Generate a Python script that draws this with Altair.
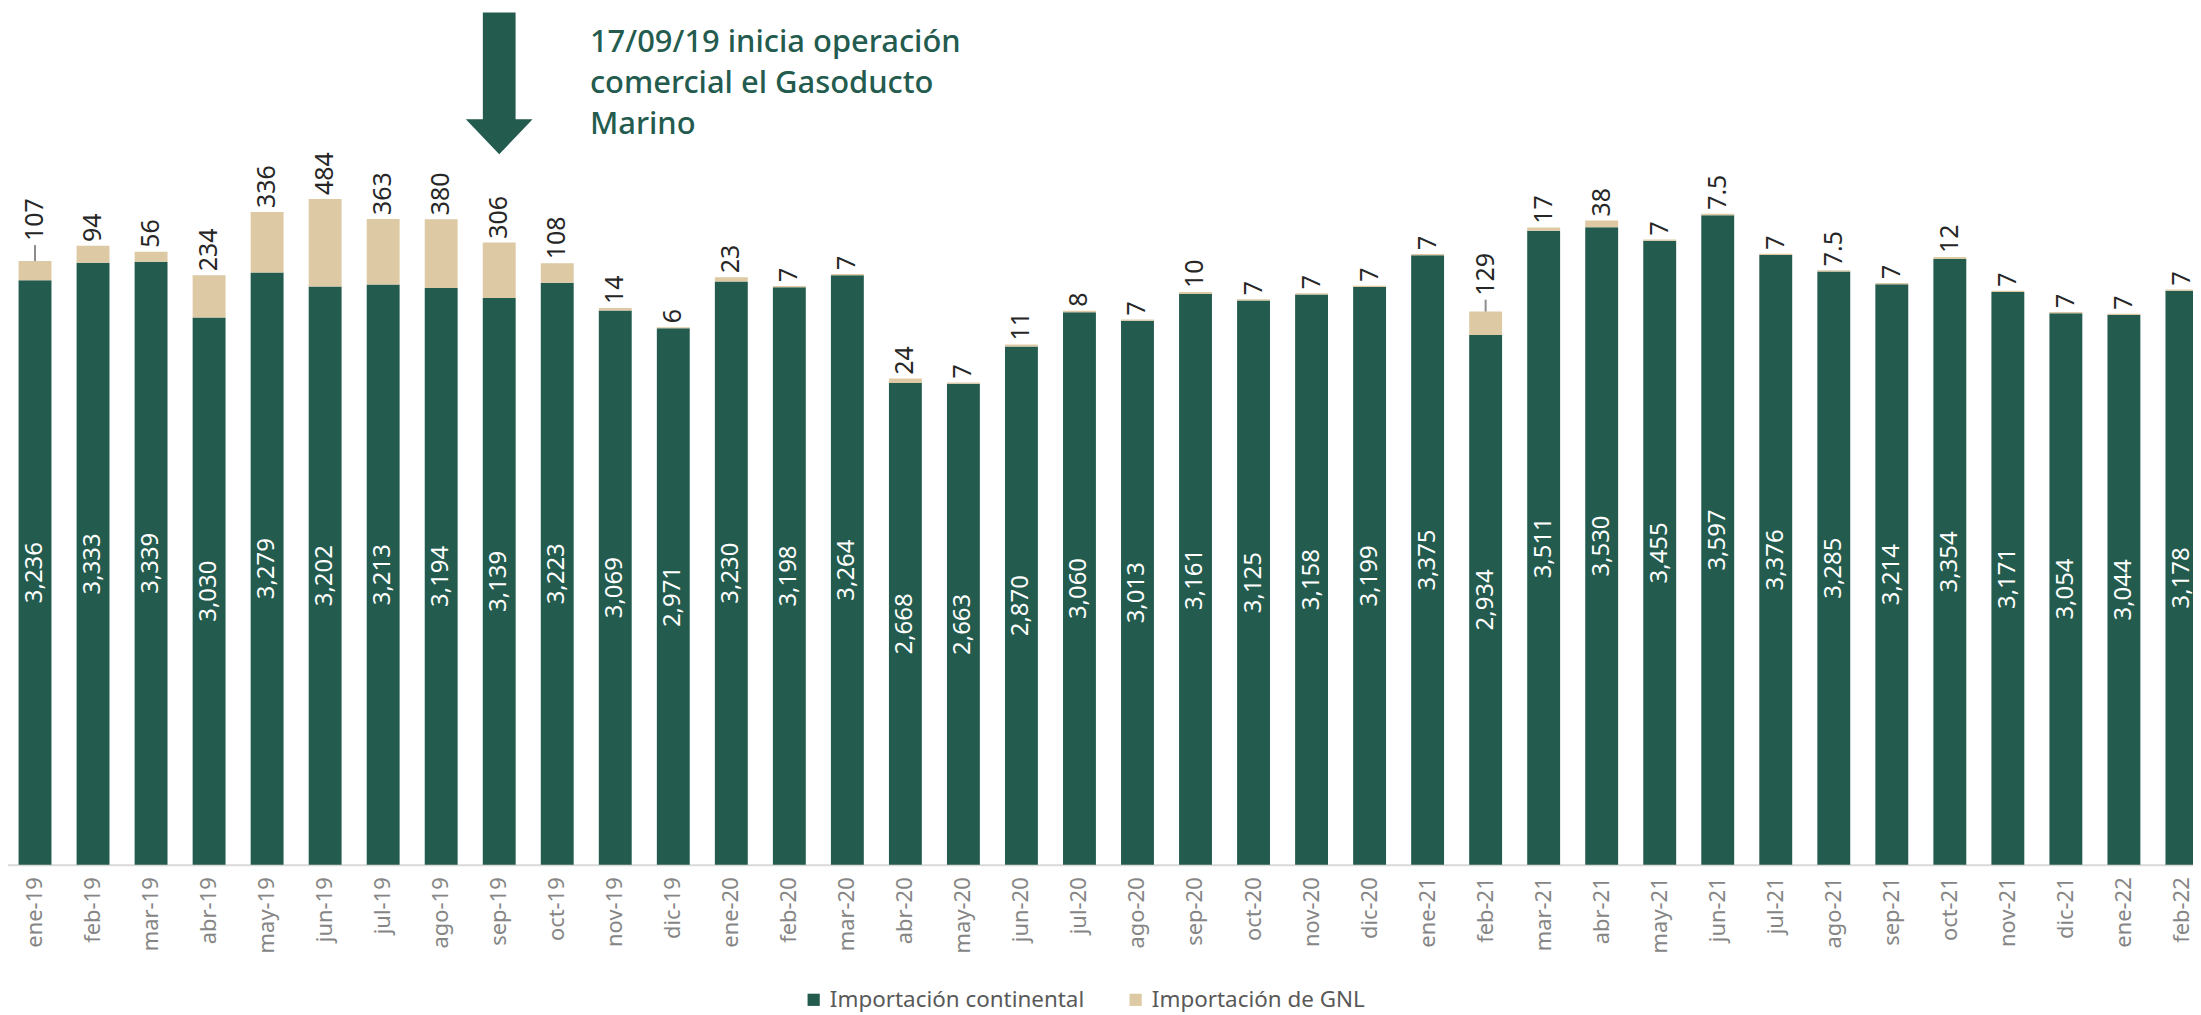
import altair as alt
import pandas as pd

# ---- data ----
meses = ["ene-19", "feb-19", "mar-19", "abr-19", "may-19", "jun-19", "jul-19", "ago-19",
         "sep-19", "oct-19", "nov-19", "dic-19",
         "ene-20", "feb-20", "mar-20", "abr-20", "may-20", "jun-20", "jul-20", "ago-20",
         "sep-20", "oct-20", "nov-20", "dic-20",
         "ene-21", "feb-21", "mar-21", "abr-21", "may-21", "jun-21", "jul-21", "ago-21",
         "sep-21", "oct-21", "nov-21", "dic-21",
         "ene-22", "feb-22"]
continental = [3236, 3333, 3339, 3030, 3279, 3202, 3213, 3194, 3139, 3223, 3069, 2971,
               3230, 3198, 3264, 2668, 2663, 2870, 3060, 3013, 3161, 3125, 3158, 3199,
               3375, 2934, 3511, 3530, 3455, 3597, 3376, 3285, 3214, 3354, 3171, 3054,
               3044, 3178]
gnl = [107, 94, 56, 234, 336, 484, 363, 380, 306, 108, 14, 6,
       23, 7, 7, 24, 7, 11, 8, 7, 10, 7, 7, 7,
       7, 129, 17, 38, 7, 7.5, 7, 7.5, 7, 12, 7, 7,
       7, 7]
series = ["Importación continental", "Importación de GNL"]
colores = ["#235B4E", "#DDC9A3"]
leader_px = {"ene-19": 16, "feb-21": 12}   # labels moved up with a leader line

anotacion = ["17/09/19 inicia operación", "comercial el Gasoducto", "Marino"]
anot_mes = "sep-19"

# ---- layout constants ----
W, H, YMAX = 2192, 858, 4735
ppu = H / YMAX
FONT = "Noto Sans"
GREEN = colores[0]

rows = []
for m, c, g in zip(meses, continental, gnl):
    rows.append({"mes": m, "serie": series[0], "y0": 0, "y1": c})
    rows.append({"mes": m, "serie": series[1], "y0": c, "y1": c + g})
bars_df = pd.DataFrame(rows)

lab = pd.DataFrame({"mes": meses, "cont": continental, "gnl": gnl})
lab["mid"] = lab["cont"] / 2
lab["total"] = lab["cont"] + lab["gnl"]
lab["cont_txt"] = lab["cont"].map(lambda v: f"{v:,}")
lab["gnl_txt"] = lab["gnl"].map(lambda v: f"{v:g}")
lab["lead"] = lab["mes"].map(leader_px).fillna(0)
lab["lab_y"] = lab["total"] + lab["lead"] / ppu
lead_df = lab[lab["lead"] > 0]

arrow_df = pd.DataFrame({"mes": [anot_mes], "ay": [(H - 74) / ppu]})
text_df = pd.DataFrame({"mes": [anot_mes], "ty": [(H - 43) / ppu]})

xs = alt.Scale(domain=meses, range=[-2, 2210], paddingInner=0.433, paddingOuter=0.2165)
x = alt.X("mes:N", sort=meses, scale=xs,
          axis=alt.Axis(title=None, labelAngle=270, ticks=False, tickSize=0,
                        labelPadding=12, labelFontSize=22, labelColor="#858585",
                        labelFont=FONT, domainColor="#d9d9d9", domainWidth=2))
ys = alt.Scale(domain=[0, YMAX], nice=False, zero=True)

bars = alt.Chart(bars_df).mark_bar().encode(
    x=x,
    y=alt.Y("y0:Q", scale=ys, axis=None),
    y2="y1:Q",
    color=alt.Color("serie:N",
                    scale=alt.Scale(domain=series, range=colores),
                    legend=alt.Legend(orient="none", legendX=797, legendY=982,
                                      direction="horizontal", title=None,
                                      symbolType="square", symbolSize=150,
                                      labelFontSize=22.5, labelFont=FONT,
                                      labelColor="#595959", columnPadding=40,
                                      labelOffset=5, padding=0, labelLimit=0)),
)

cont_lbl = alt.Chart(lab).mark_text(
    angle=270, align="center", baseline="middle", color="white",
    fontSize=24, font=FONT
).encode(x=x, y=alt.Y("mid:Q", scale=ys, axis=None), text="cont_txt:N")

leaders = alt.Chart(lead_df).mark_rule(color="#8c8c8c", strokeWidth=2).encode(
    x=x, y=alt.Y("total:Q", scale=ys, axis=None), y2="lab_y:Q")

gnl_lbl = alt.Chart(lab).mark_text(
    angle=270, align="left", baseline="middle", dx=4, color="#262626",
    fontSize=25, font=FONT
).encode(x=x, y=alt.Y("lab_y:Q", scale=ys, axis=None), text="gnl_txt:N")

arrow_path = "M-0.49,-2.12L0.49,-2.12L0.49,1.075L1,1.075L0,2.12L-1,1.075L-0.49,1.075Z"
arrow = alt.Chart(arrow_df).mark_point(
    shape=arrow_path, size=4489, filled=True, color=GREEN, opacity=1, strokeWidth=0
).encode(x=x, y=alt.Y("ay:Q", scale=ys, axis=None))

note = alt.Chart(text_df).mark_text(
    text=anotacion, align="left", baseline="alphabetic", dx=91, fontSize=31,
    font=FONT, fontWeight=500, color=GREEN, lineHeight=41
).encode(x=x, y=alt.Y("ty:Q", scale=ys, axis=None))

chart = alt.layer(bars, cont_lbl, leaders, gnl_lbl, arrow, note).properties(
    width=W, height=H,
    autosize=alt.AutoSizeParams(type="none"),
    padding={"left": 0, "top": 0, "right": 0, "bottom": 148},
).configure_view(strokeWidth=0)

chart.save("out.html", embed_options={"renderer": "svg", "actions": False})
